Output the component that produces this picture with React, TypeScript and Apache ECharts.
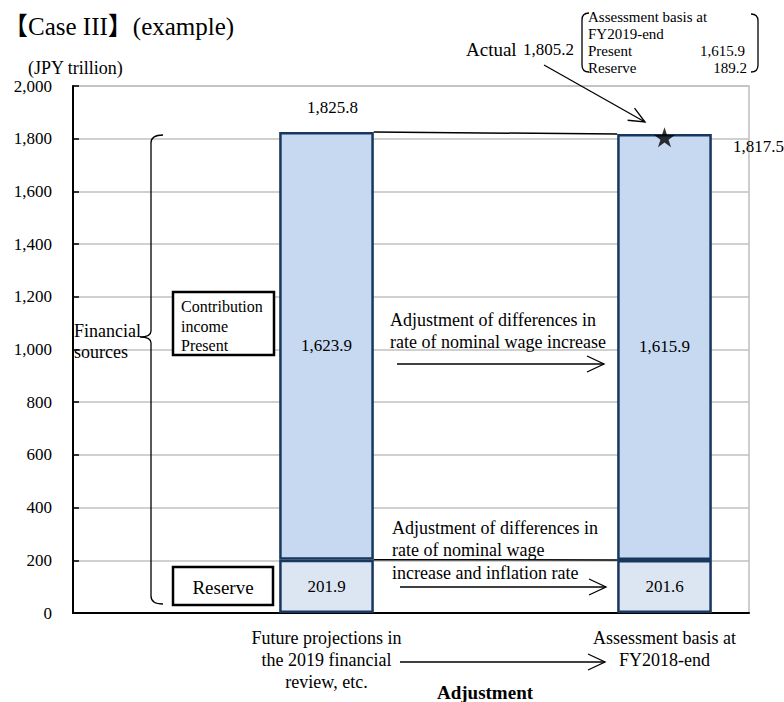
import React, { useEffect, useRef } from "react";
import * as echarts from "echarts";

// ---------- data ----------
const categories = [
  "",
  "Future projections in\nthe 2019 financial\nreview, etc.",
  "",
  "Assessment basis at\nFY2018-end",
];
const reserveValues = [null, 201.9, null, 201.6];
const presentValues = [null, 1623.9, null, 1615.9];
const totalValues = [null, 1825.8, null, 1817.5];
const actualValues = [null, null, null, 1805.2];
// connectors: [fromCategoryIndex, toCategoryIndex, fromValue, toValue]
const connectors = [
  [1, 3, 1825.8, 1817.5],
  [1, 3, 201.9, 201.6],
];
const yMin = 0;
const yMax = 2000;
const yInterval = 200;
const boxPresent = "1,615.9";
const boxReserve = "189.2";
const actualLabel = "1,805.2";

// ---------- styles ----------
const FONT = '"Liberation Serif", "Times New Roman", "Noto Sans CJK JP", serif';
const BAR_RATIO = 0.56;

const bracketPath =
  // left curly brace
  "M163,135 Q151,135 151,143 L151,331 Q151,337 140,337 Q151,337 151,343 L151,596 Q151,604 163,604 " +
  // left parenthesis of the top-right box
  "M589,13 Q582,13 582,20 L582,65 Q582,72 589,72 " +
  // right parenthesis
  "M751,14 Q758,14 758,21 L758,65 Q758,72 751,72";
echarts.graphic.registerShape("brackets", echarts.graphic.extendPath(bracketPath, {}));

const fmt1 = (v: number) =>
  v.toLocaleString("en-US", { minimumFractionDigits: 1, maximumFractionDigits: 1 });

function arrow(x1: number, y1: number, x2: number, y2: number, head = 17, spread = 8, lw = 1.3) {
  const dx = x2 - x1;
  const dy = y2 - y1;
  const len = Math.sqrt(dx * dx + dy * dy);
  const ux = dx / len;
  const uy = dy / len;
  const bx = x2 - ux * head;
  const by = y2 - uy * head;
  const nx = -uy;
  const ny = ux;
  return [
    { type: "line", shape: { x1, y1, x2, y2 }, style: { stroke: "#000", lineWidth: lw }, z: 10 },
    {
      type: "polyline",
      shape: {
        points: [
          [bx + nx * spread, by + ny * spread],
          [x2, y2],
          [bx - nx * spread, by - ny * spread],
        ],
      },
      style: { stroke: "#000", fill: null, lineWidth: lw },
      z: 10,
    },
  ];
}

function txt(text: string, x: number, y: number, size: number, extra: any = {}) {
  return {
    type: "text",
    z: 20,
    style: {
      text,
      x,
      y,
      fill: "#000",
      font: `${extra.weight || "normal"} ${size}px ${FONT}`,
      align: extra.align || "left",
      verticalAlign: extra.verticalAlign || "middle",
      lineHeight: extra.lineHeight,
    },
  };
}

export default function App() {
  const ref = useRef<HTMLDivElement>(null);

  useEffect(() => {
    if (!ref.current) return;
    const chart = echarts.init(ref.current, null, { renderer: "svg" });

    const labelStyle = { fontFamily: FONT, fontSize: 17, color: "#000" };

    const totalData = totalValues.map((v, i) => {
      if (v == null) return null;
      const pos =
        i === 1
          ? { position: "top", distance: 15, offset: [6, 0] }
          : { position: "right", distance: 68, offset: [0, 12] };
      return {
        value: v,
        label: { show: true, formatter: fmt1(v), ...labelStyle, ...pos },
      };
    });

    const graphic: any[] = [
      txt("【Case III】(example)", 3, 26, 25),
      txt("(JPY trillion)", 28, 68, 18),
      // brackets (brace + parentheses)
      {
        type: "brackets",
        x: 0,
        y: 0,
        z: 10,
        style: { stroke: "#000", fill: null, lineWidth: 1.3 },
      },
      txt("Financial", 74, 331, 18),
      txt("sources", 74, 352, 18),
      // Contribution box
      {
        type: "rect",
        z: 15,
        shape: { x: 173, y: 292, width: 101, height: 63 },
        style: { fill: "#fff", stroke: "#000", lineWidth: 2.5 },
      },
      txt("Contribution", 181, 306, 16),
      txt("income", 181, 326, 16),
      txt("Present", 181, 345, 16),
      // Reserve box
      {
        type: "rect",
        z: 15,
        shape: { x: 173, y: 567, width: 100, height: 38 },
        style: { fill: "#fff", stroke: "#000", lineWidth: 2.5 },
      },
      txt("Reserve", 223, 587, 19, { align: "center" }),
      // annotation 1
      txt("Adjustment of differences in", 390, 320, 18),
      txt("rate of nominal wage increase", 390, 342, 18),
      ...arrow(397, 364, 604, 364),
      // annotation 2
      txt("Adjustment of differences in", 392, 528, 18),
      txt("rate of nominal wage", 392, 550, 18),
      txt("increase and inflation rate", 392, 573, 18),
      ...arrow(400, 587, 606, 587),
      // category arrow
      ...arrow(400, 662, 605, 662),
      txt("Adjustment", 485, 692, 19, { align: "center", weight: "bold" }),
      // actual annotation
      txt("Actual", 466, 49, 19),
      txt(actualLabel, 523, 49, 17),
      ...arrow(544, 65, 645, 122, 16, 7),
      // top-right box
      txt("Assessment basis at", 588, 17, 15),
      txt("FY2019-end", 588, 34, 15),
      txt("Present", 588, 51, 15),
      txt(boxPresent, 745, 51, 15, { align: "right" }),
      txt("Reserve", 588, 68, 15),
      txt(boxReserve, 747, 68, 15, { align: "right" }),
    ];

    const option: any = {
      animation: false,
      backgroundColor: "#fff",
      textStyle: { fontFamily: FONT },
      grid: {
        left: 73,
        right: 35,
        top: 86,
        bottom: 89,
        show: true,
        borderColor: "#bfbfbf",
        borderWidth: 1.5,
        backgroundColor: "transparent",
      },
      xAxis: {
        type: "category",
        data: categories,
        axisLine: { show: true, lineStyle: { color: "#000", width: 2 } },
        axisTick: { show: false },
        axisLabel: {
          interval: 0,
          margin: 14,
          fontFamily: FONT,
          fontSize: 18,
          lineHeight: 22,
          color: "#000",
        },
        splitLine: { show: false },
      },
      yAxis: {
        type: "value",
        min: yMin,
        max: yMax,
        interval: yInterval,
        axisLine: { show: true, lineStyle: { color: "#000", width: 2 } },
        axisTick: { show: true, inside: true, length: 6, lineStyle: { color: "#000", width: 1.5 } },
        axisLabel: {
          margin: 21,
          fontFamily: FONT,
          fontSize: 17,
          color: "#000",
          formatter: (v: number) => v.toLocaleString("en-US"),
        },
        splitLine: { show: true, lineStyle: { color: "#c0c0c0", width: 1.5 } },
      },
      series: [
        {
          name: "Total",
          type: "scatter",
          data: totalData,
          symbolSize: 1,
          itemStyle: { color: "#ffffff", opacity: 1 },
          label: { show: true, ...labelStyle },
          emphasis: { disabled: true },
          z: 1,
        },
        {
          name: "Reserve",
          type: "bar",
          stack: "a",
          barWidth: `${BAR_RATIO * 100}%`,
          data: reserveValues,
          itemStyle: { color: "#dce6f2", borderColor: "#17375e", borderWidth: 2.5 },
          label: { show: true, position: "inside", formatter: (p: any) => fmt1(p.value), ...labelStyle },
          z: 3,
        },
        {
          name: "Present",
          type: "bar",
          stack: "a",
          data: presentValues,
          itemStyle: { color: "#c6d9f0", borderColor: "#17375e", borderWidth: 2.5 },
          label: { show: true, position: "inside", formatter: (p: any) => fmt1(p.value), ...labelStyle },
          z: 3,
        },
        {
          name: "Connectors",
          type: "custom",
          data: connectors,
          encode: { x: [0, 1], y: [2, 3] },
          renderItem: (params: any, api: any) => {
            const p1 = api.coord([api.value(0), api.value(2)]);
            const p2 = api.coord([api.value(1), api.value(3)]);
            const band = api.size([1, 0])[0];
            const half = (band * BAR_RATIO) / 2;
            return {
              type: "line",
              shape: { x1: p1[0] + half, y1: p1[1], x2: p2[0] - half, y2: p2[1] },
              style: { stroke: "#000", lineWidth: 1.5 },
            };
          },
          z: 4,
        },
        {
          name: "Actual",
          type: "scatter",
          data: actualValues,
          symbol:
            "path://M50,0 L61.8,35.4 L99,35.4 L69,57.3 L80.4,92.7 L50,70.8 L19.6,92.7 L31,57.3 L1,35.4 L38.2,35.4 Z",
          symbolSize: [21, 20],
          itemStyle: { color: "#000" },
          z: 6,
        },
      ],
      graphic,
    };

    chart.setOption(option);
    return () => chart.dispose();
  }, []);

  return (
    <div
      ref={ref}
      style={{ position: "fixed", left: 0, top: 0, width: 784, height: 702, background: "#fff" }}
    />
  );
}
